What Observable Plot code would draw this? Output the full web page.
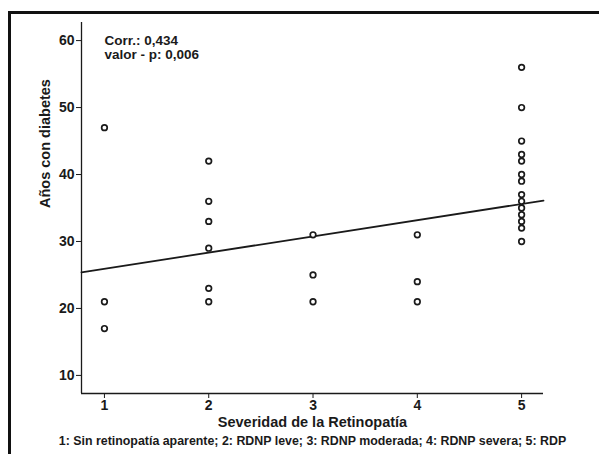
<!DOCTYPE html>
<html>
<head>
<meta charset="utf-8">
<script src="https://cdn.jsdelivr.net/npm/d3@7"></script>
<script src="https://cdn.jsdelivr.net/npm/@observablehq/plot@0.6"></script>
<style>
  html, body { margin: 0; padding: 0; background: #fff; }
</style>
</head>
<body>
<div id="chart"></div>
<script>
// Data
const severidad = [1,1,1, 2,2,2,2,2,2, 3,3,3, 4,4,4, 5,5,5,5,5,5,5,5,5,5,5,5,5,5];
const anios     = [47,21,17, 42,36,33,29,23,21, 31,25,21, 31,24,21, 56,50,45,43,42,40,39,37,36,35,34,33,32,30];
const xTicks = [1, 2, 3, 4, 5];
const yTicks = [10, 20, 30, 40, 50, 60];
const xDomain = [0.78, 5.21];
const yDomain = [7.3, 62.7];
// fitted line
const fitIntercept = 23.5;
const fitSlope = 2.42;
const statsLines = ["Corr.: 0,434", "valor - p: 0,006"];
const xTitle = "Severidad de la Retinopatía";
const yTitle = "Años con diabetes";
const caption = "1: Sin retinopatía aparente; 2: RDNP leve; 3: RDNP moderada; 4: RDNP severa; 5: RDP";

const points = severidad.map((s, i) => ({x: s, y: anios[i]}));
const fit = xDomain.map(x => ({x, y: fitIntercept + fitSlope * x}));

const ink = "#1a1a1a";
const chart = Plot.plot({
  width: 599,
  height: 454,
  marginLeft: 81,
  marginRight: 56,
  marginTop: 22,
  marginBottom: 61,
  style: {fontFamily: "'Liberation Sans', Arial, sans-serif", fontWeight: "bold", fontSize: "13px", color: ink, background: "#fff"},
  x: {domain: xDomain},
  y: {domain: yDomain},
  marks: [
    Plot.axisX({ticks: xTicks, tickFormat: d => String(d), tickSize: 5, tickPadding: 2, label: null, fontSize: 14}),
    Plot.axisY({ticks: yTicks, tickFormat: d => String(d), tickSize: 5, tickPadding: 2, label: null, fontSize: 14}),
    Plot.ruleX([xDomain[0]], {stroke: ink, strokeWidth: 1.3}),
    Plot.ruleY([yDomain[0]], {stroke: ink, strokeWidth: 1.3}),
    Plot.line(fit, {x: "x", y: "y", stroke: ink, strokeWidth: 1.8}),
    Plot.dot(points, {x: "x", y: "y", r: 2.8, stroke: ink, strokeWidth: 1.7, fill: "white"}),
    Plot.text([statsLines.join("\n")], {frameAnchor: "top-left", dx: 23, dy: 12, textAnchor: "start", lineAnchor: "top", lineHeight: 1.05, fontSize: 13.5, fill: ink}),
    Plot.text([xTitle], {frameAnchor: "bottom", dy: 33, fontSize: 14.5, fill: ink}),
    Plot.text([caption], {frameAnchor: "bottom", dy: 51.5, fontSize: 12.4, fill: ink}),
    Plot.text([yTitle], {frameAnchor: "left", dx: -36, rotate: -90, fontSize: 14.5, fill: ink})
  ]
});

d3.select(chart).append("rect")
  .attr("x", 9.5).attr("y", 12.5)
  .attr("width", 700).attr("height", 600)
  .attr("fill", "none").attr("stroke", "#111").attr("stroke-width", 3);

document.getElementById("chart").appendChild(chart);
</script>
</body>
</html>
